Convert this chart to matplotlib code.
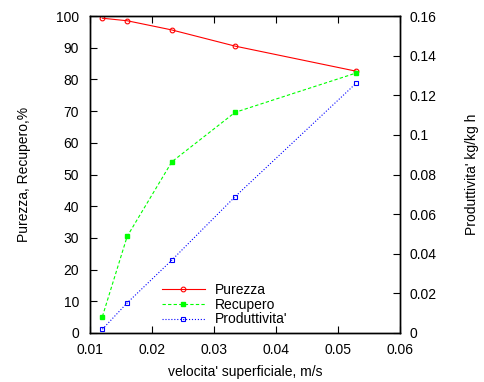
import matplotlib
matplotlib.use("Agg")
import matplotlib.pyplot as plt
from matplotlib.ticker import FuncFormatter

plt.rcParams['font.family'] = ['Liberation Sans', 'DejaVu Sans']
plt.rcParams['font.size'] = 10

velocita = [0.012, 0.016, 0.0232, 0.0334, 0.0529]
purezza = [99.3, 98.5, 95.6, 90.5, 82.6]
recupero = [5.2, 30.5, 54.0, 69.6, 82.0]
produttivita = [0.0019, 0.0152, 0.0368, 0.0688, 0.126]

fig = plt.figure(figsize=(4.84, 3.82), dpi=100)
ax = fig.add_axes([90/484, 49/382, 310/484, 317/382])
ax2 = ax.twinx()

l1, = ax.plot(velocita, purezza, '-', color='#ff0000', lw=0.8, marker='o', ms=3.4,
              mfc='none', mec='#ff0000', mew=0.8, label='Purezza')
l2, = ax.plot(velocita, recupero, '--', color='#00ff00', lw=0.8, marker='s', ms=3.3,
              mfc='#00ff00', mec='#00ff00', dashes=(3, 2), label='Recupero')
l3, = ax2.plot(velocita, produttivita, ':', color='#0000ff', lw=0.8, marker='s', ms=3.4,
               mfc='none', mec='#0000ff', mew=0.8, label="Produttivita'")

ax.set_xlim(0.01, 0.06)
ax.set_ylim(0, 100)
ax2.set_ylim(0, 0.16)
ax.set_xticks([0.01, 0.02, 0.03, 0.04, 0.05, 0.06])
ax.set_yticks(range(0, 101, 10))
ax2.set_yticks([0, 0.02, 0.04, 0.06, 0.08, 0.1, 0.12, 0.14, 0.16])
ax2.yaxis.set_major_formatter(FuncFormatter(lambda v, p: '%g' % v))
ax.xaxis.set_major_formatter(FuncFormatter(lambda v, p: '%g' % v))

ax.tick_params(axis='x', direction='in', top=True, length=5, width=0.8, pad=7)
ax.tick_params(axis='y', direction='in', length=5, width=0.8, pad=8)
ax2.tick_params(axis='y', direction='in', length=5, width=0.8, pad=7)
for a in (ax, ax2):
    for s in a.spines.values():
        s.set_linewidth(1.0)

ax.set_xlabel("velocita' superficiale, m/s", labelpad=6)
ax.set_ylabel("Purezza, Recupero,%", labelpad=18)
ax2.set_ylabel("Produttivita' kg/kg h", labelpad=20)

ax.legend(handles=[l1, l2, l3], loc='lower left', bbox_to_anchor=(0.2, -0.01),
          frameon=False, handlelength=3.1, labelspacing=0.05, handletextpad=0.7,
          borderaxespad=0.3)

fig.savefig('out.png', dpi=100)
